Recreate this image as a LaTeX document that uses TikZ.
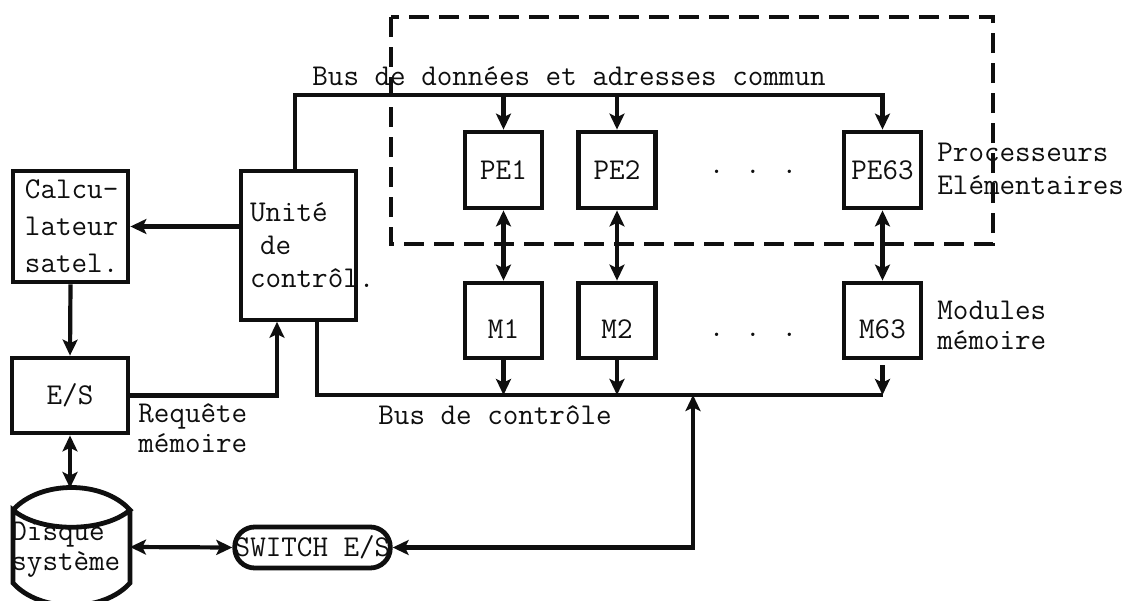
\documentclass[tikz,border=0pt]{standalone}
\usepackage{fontspec}
\usepackage{tikz}
\usetikzlibrary{arrows.meta}
\definecolor{ink}{RGB}{15,15,15}
\tikzset{
  txt/.style={font=\ttfamily\fontsize{15.1}{16.5}\selectfont,text=ink,inner sep=0pt},
  blk/.style={txt,draw=ink,line width=2.4pt},
  bus/.style={draw=ink,line width=2.1pt},
  arr/.style={bus,-{Stealth[length=8pt,width=7.5pt,inset=1.8pt]}},
  darr/.style={bus,{Stealth[length=8pt,width=7.5pt,inset=1.8pt]}-{Stealth[length=8pt,width=7.5pt,inset=1.8pt]}},
  peblk/.style={blk,minimum width=38.5pt,minimum height=38pt},
  % text sits low in the memory boxes
  mblk/.style={blk,minimum width=38.5pt,minimum height=37.5pt,text height=18pt,text depth=0pt},
}

\begin{document}
\begin{tikzpicture}[x=0.5pt,y=-0.5pt]
  \useasboundingbox (0,0) rectangle (1130,600);
  % frame of the elementary processors
  \draw[ink,line width=2pt,dash pattern=on 10pt off 5pt] (391,17) rectangle (993,244);
  % left column
  \node[blk,minimum width=57.5pt,minimum height=55.5pt,text width=45.5pt,align=left,
        font=\ttfamily\fontsize{15.1}{18.5}\selectfont] (calc) at (70.5,226.5) {Calcu-\\lateur\\satel.};
  \node[blk,line width=1.8pt,minimum width=57.5pt,minimum height=74.5pt,text width=48.5pt,align=left]
    (unite) at (298.5,245.5) {Unité\\~de\\contrôl.};
  \node[blk,minimum width=58pt,minimum height=37.5pt] (es) at (70,395.5) {E/S};
  \node[blk,minimum width=75.5pt,minimum height=20.5pt,rounded corners=10pt] (switch) at (312.5,547.5) {SWITCH E/S};
  % disk
  \draw[ink,line width=2.4pt] (13,510) .. controls (40,480) and (103,480) .. (130,510)
    .. controls (103,533) and (40,533) .. (13,510) -- (13,583)
    .. controls (40,613) and (103,613) .. (130,583) -- (130,510);
  \node[txt,anchor=west,align=left,font=\ttfamily\fontsize{15.1}{15}\selectfont] (disque) at (11,550) {Disque\\système};
  \coordinate (dtop) at (70,488);
  \coordinate (deast) at (130,547);
  % processors and memories
  \foreach \i/\xc/\pe/\m in {1/503.5/PE1/M1,2/617/PE2/M2,3/882.5/PE63/M63}{
    \node[peblk] (pe\i) at (\xc,170) {\pe};
    \node[mblk] (m\i) at (\xc,320.5) {\m};
    \draw[darr] (pe\i.south) -- (m\i.north);
  }
  \node[txt] (dotspe) at (753,172) {. . .};
  \node[txt] (dotsm) at (753,335) {. . .};
  % labels
  \node[txt,anchor=west] (ldb) at (312,76) {Bus de données et adresses commun};
  \node[txt,anchor=west,align=left] (lpe) at (937,168.5) {Processeurs\\Elémentaires};
  \node[txt,anchor=west,align=left,font=\ttfamily\fontsize{15.1}{15}\selectfont] (lm) at (937,325) {Modules\\mémoire};
  \node[txt,anchor=west,align=left,font=\ttfamily\fontsize{15.1}{15}\selectfont] (lrq) at (138,428) {Requête\\mémoire};
  \node[txt,anchor=west] (lcb) at (378,415) {Bus de contrôle};
  % data and address bus
  \coordinate (db) at (400,95);
  \draw[arr] ([xshift=-1.75pt]unite.north) |- (db) -| (pe3.north);
  \foreach \i in {1,2}
    \draw[arr] (pe\i.north |- db) -- (pe\i.north);
  % control bus
  \coordinate (cbr) at (882.5,395);
  \coordinate (cbs) at (693,395);
  \draw[bus] ([xshift=9.25pt]unite.south) |- (cbr);
  \foreach \i in {1,2}
    \draw[arr] (m\i.south) -- (m\i.south |- cbr);
  \draw[arr] ([yshift=-2.5pt]m3.south) -- (m3.south |- cbr);
  \draw[darr] (switch.east) -| (cbs);
  % left links
  \coordinate (rq) at ([xshift=-10.75pt]unite.south);
  \draw[arr] (unite.west |- calc.east) -- (calc.east);
  \draw[arr] (calc.south) -- (es.north);
  \draw[arr] (es.east) -| (rq);
  \draw[darr] (es.south) -- (dtop);
  \draw[darr] (deast) -- (switch.west);
\end{tikzpicture}
\end{document}
